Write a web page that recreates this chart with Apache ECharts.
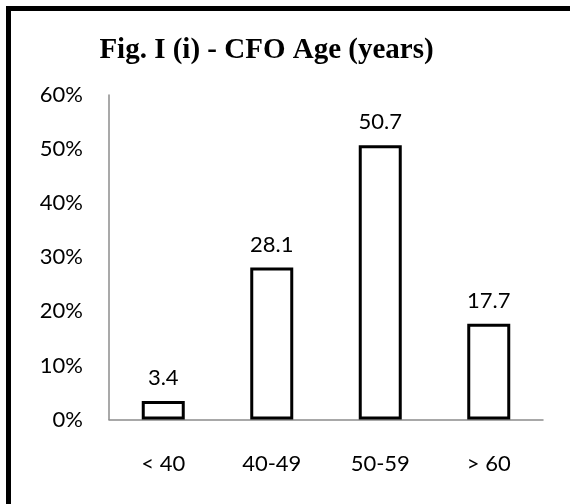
<!DOCTYPE html>
<html>
<head>
<meta charset="utf-8">
<script src="https://cdn.jsdelivr.net/npm/echarts@6/dist/echarts.min.js"></script>
<style>
html,body{margin:0;padding:0;background:#fff;}
#chart{width:570px;height:504px;}
</style>
</head>
<body>
<div id="chart"></div>
<script>
const titleText = 'Fig. I (i) - CFO Age (years)';
const categories = ['< 40', '40-49', '50-59', '> 60'];
const values = [3.4, 28.1, 50.7, 17.7];
const yTicks = [0, 10, 20, 30, 40, 50, 60];

const chart = echarts.init(document.getElementById('chart'), null, {renderer: 'canvas'});
const labelFont = 'Lato';
chart.setOption({
  animation: false,
  backgroundColor: '#fff',
  grid: {left: 109, right: 27, top: 95, bottom: 84.5, containLabel: false},
  graphic: [
    {type: 'rect', shape: {x: 8.5, y: 8.5, width: 700, height: 700},
     style: {fill: 'none', stroke: '#000', lineWidth: 5}, z: 100},
    {type: 'text', x: 266.5, y: 51,
     style: {text: titleText, font: 'bold 29px "Liberation Serif"', fill: '#000',
             align: 'center', verticalAlign: 'middle'}}
  ],
  xAxis: {
    type: 'category',
    data: categories,
    axisLine: {show: true, lineStyle: {color: '#8c8c8c', width: 1.5}},
    axisTick: {show: false},
    axisLabel: {color: '#000', fontFamily: labelFont, fontSize: 22, margin: 33}
  },
  yAxis: {
    type: 'value',
    min: yTicks[0], max: yTicks[yTicks.length - 1], interval: 10,
    axisLine: {show: true, lineStyle: {color: '#8c8c8c', width: 1.5}},
    axisTick: {show: false},
    splitLine: {show: false},
    axisLabel: {color: '#000', fontFamily: labelFont, fontSize: 22, margin: 26,
                formatter: '{value}%'}
  },
  series: [{
    type: 'bar',
    data: values,
    barWidth: 43,
    itemStyle: {color: '#fff', borderColor: '#000', borderWidth: 3},
    label: {show: true, position: 'top', distance: 12, color: '#000',
            fontFamily: labelFont, fontSize: 22,
            formatter: p => p.value.toFixed(1)}
  }]
});
</script>
</body>
</html>
